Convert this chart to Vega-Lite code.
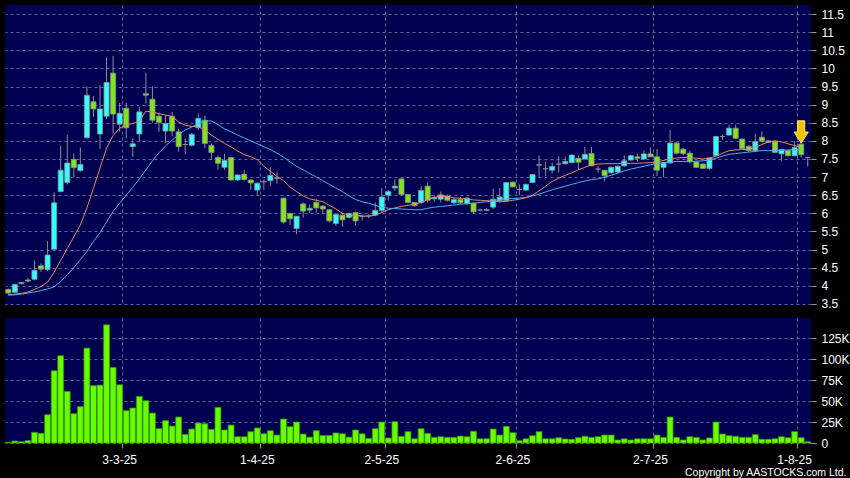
{
  "$schema": "https://vega.github.io/schema/vega-lite/v6.json",
  "background": "#000000",
  "padding": {"left": 4, "top": 5, "right": 0, "bottom": 0},
  "spacing": 13,
  "bounds": "flush",
  "config": {
    "view": {"fill": "#000050", "stroke": null},
    "font": "Liberation Sans",
    "axis": {"labelColor": "#ffffff", "labelFont": "Liberation Sans", "labelFontSize": 12, "labelFontWeight": "normal", "tickColor": "#9a9a9a", "domain": false, "gridColor": "#64649a", "gridDash": [3, 3], "gridWidth": 1}
  },
  "datasets": {
    "ohlc": [
      {"date":"6-2-25","open":3.9,"high":3.92,"low":3.77,"close":3.8,"volume":800,"ma_fast":3.76,"ma_slow":3.74},
      {"date":"7-2-25","open":3.82,"high":4.05,"low":3.8,"close":4.04,"volume":2400,"ma_fast":3.77,"ma_slow":3.75},
      {"date":"10-2-25","open":4.06,"high":4.1,"low":4.04,"close":4.09,"volume":1600,"ma_fast":3.79,"ma_slow":3.77},
      {"date":"11-2-25","open":4.16,"high":4.22,"low":4.1,"close":4.13,"volume":2800,"ma_fast":3.83,"ma_slow":3.8},
      {"date":"12-2-25","open":4.18,"high":4.7,"low":4.15,"close":4.43,"volume":12700,"ma_fast":3.9,"ma_slow":3.83},
      {"date":"13-2-25","open":4.55,"high":4.62,"low":4.38,"close":4.46,"volume":11500,"ma_fast":3.98,"ma_slow":3.87},
      {"date":"14-2-25","open":4.45,"high":5.24,"low":4.4,"close":4.85,"volume":33700,"ma_fast":4.1,"ma_slow":3.91},
      {"date":"17-2-25","open":5.01,"high":6.58,"low":4.98,"close":6.29,"volume":86100,"ma_fast":4.38,"ma_slow":3.97},
      {"date":"18-2-25","open":6.6,"high":7.87,"low":6.58,"close":7.19,"volume":104000,"ma_fast":4.7,"ma_slow":4.12},
      {"date":"19-2-25","open":6.85,"high":8.16,"low":6.8,"close":7.39,"volume":61500,"ma_fast":5.03,"ma_slow":4.3},
      {"date":"20-2-25","open":7.49,"high":7.65,"low":7.0,"close":7.26,"volume":34900,"ma_fast":5.35,"ma_slow":4.5},
      {"date":"21-2-25","open":7.18,"high":7.82,"low":7.15,"close":7.35,"volume":43300,"ma_fast":5.68,"ma_slow":4.72},
      {"date":"24-2-25","open":8.09,"high":9.5,"low":8.05,"close":9.26,"volume":113100,"ma_fast":6.15,"ma_slow":4.95},
      {"date":"25-2-25","open":9.08,"high":9.24,"low":8.67,"close":8.88,"volume":68300,"ma_fast":6.69,"ma_slow":5.22},
      {"date":"26-2-25","open":8.19,"high":9.54,"low":7.77,"close":8.88,"volume":69000,"ma_fast":7.25,"ma_slow":5.47},
      {"date":"27-2-25","open":8.68,"high":10.3,"low":8.6,"close":9.61,"volume":140900,"ma_fast":7.8,"ma_slow":5.76},
      {"date":"28-2-25","open":9.87,"high":10.35,"low":8.2,"close":8.74,"volume":90100,"ma_fast":8.15,"ma_slow":6.05},
      {"date":"3-3-25","open":8.46,"high":9.05,"low":8.25,"close":8.76,"volume":69400,"ma_fast":8.35,"ma_slow":6.28},
      {"date":"4-3-25","open":8.9,"high":9.05,"low":8.07,"close":8.36,"volume":38500,"ma_fast":8.44,"ma_slow":6.5},
      {"date":"5-3-25","open":7.84,"high":8.07,"low":7.56,"close":7.92,"volume":41700,"ma_fast":8.48,"ma_slow":6.72},
      {"date":"6-3-25","open":8.19,"high":8.94,"low":7.98,"close":8.8,"volume":55600,"ma_fast":8.55,"ma_slow":6.95},
      {"date":"7-3-25","open":9.3,"high":9.88,"low":9.03,"close":9.26,"volume":50400,"ma_fast":8.82,"ma_slow":7.2},
      {"date":"10-3-25","open":9.15,"high":9.5,"low":8.5,"close":8.57,"volume":35700,"ma_fast":8.8,"ma_slow":7.45},
      {"date":"11-3-25","open":8.68,"high":8.78,"low":8.25,"close":8.51,"volume":17100,"ma_fast":8.75,"ma_slow":7.67},
      {"date":"12-3-25","open":8.27,"high":8.71,"low":7.93,"close":8.48,"volume":26600,"ma_fast":8.71,"ma_slow":7.86},
      {"date":"13-3-25","open":8.68,"high":8.8,"low":8.12,"close":8.27,"volume":20200,"ma_fast":8.67,"ma_slow":8.02},
      {"date":"14-3-25","open":8.25,"high":8.34,"low":7.7,"close":7.84,"volume":31000,"ma_fast":8.52,"ma_slow":8.18},
      {"date":"17-3-25","open":7.9,"high":8.07,"low":7.63,"close":7.9,"volume":10300,"ma_fast":8.43,"ma_slow":8.3},
      {"date":"18-3-25","open":7.88,"high":8.22,"low":7.85,"close":8.18,"volume":16700,"ma_fast":8.4,"ma_slow":8.38},
      {"date":"19-3-25","open":8.36,"high":8.76,"low":8.3,"close":8.62,"volume":23800,"ma_fast":8.39,"ma_slow":8.48},
      {"date":"20-3-25","open":8.57,"high":8.7,"low":7.8,"close":7.93,"volume":23000,"ma_fast":8.3,"ma_slow":8.55},
      {"date":"21-3-25","open":7.87,"high":7.93,"low":7.47,"close":7.68,"volume":16300,"ma_fast":8.16,"ma_slow":8.55},
      {"date":"24-3-25","open":7.54,"high":7.6,"low":7.2,"close":7.38,"volume":42500,"ma_fast":8.04,"ma_slow":8.45},
      {"date":"25-3-25","open":7.27,"high":7.65,"low":7.2,"close":7.46,"volume":15500,"ma_fast":7.93,"ma_slow":8.33},
      {"date":"26-3-25","open":7.54,"high":7.55,"low":6.9,"close":6.92,"volume":21400,"ma_fast":7.83,"ma_slow":8.25},
      {"date":"27-3-25","open":6.92,"high":7.07,"low":6.9,"close":7.06,"volume":7500,"ma_fast":7.72,"ma_slow":8.16},
      {"date":"28-3-25","open":7.08,"high":7.2,"low":6.9,"close":6.93,"volume":7500,"ma_fast":7.62,"ma_slow":8.08},
      {"date":"31-3-25","open":6.92,"high":6.93,"low":6.64,"close":6.84,"volume":13500,"ma_fast":7.56,"ma_slow":8.0},
      {"date":"1-4-25","open":6.64,"high":6.85,"low":6.48,"close":6.83,"volume":17900,"ma_fast":7.48,"ma_slow":7.92},
      {"date":"2-4-25","open":6.87,"high":6.93,"low":6.64,"close":6.87,"volume":11100,"ma_fast":7.3,"ma_slow":7.84},
      {"date":"3-4-25","open":6.9,"high":7.26,"low":6.75,"close":7.05,"volume":14700,"ma_fast":7.16,"ma_slow":7.76},
      {"date":"7-4-25","open":6.97,"high":7.15,"low":6.82,"close":6.97,"volume":9500,"ma_fast":7.02,"ma_slow":7.66},
      {"date":"8-4-25","open":6.42,"high":6.43,"low":5.72,"close":5.76,"volume":28600,"ma_fast":6.9,"ma_slow":7.55},
      {"date":"9-4-25","open":6.0,"high":6.01,"low":5.68,"close":5.85,"volume":19400,"ma_fast":6.72,"ma_slow":7.42},
      {"date":"10-4-25","open":5.58,"high":5.93,"low":5.42,"close":5.92,"volume":25000,"ma_fast":6.6,"ma_slow":7.3},
      {"date":"11-4-25","open":6.26,"high":6.3,"low":5.88,"close":6.06,"volume":10700,"ma_fast":6.48,"ma_slow":7.2},
      {"date":"14-4-25","open":6.09,"high":6.25,"low":6.0,"close":6.14,"volume":7000,"ma_fast":6.4,"ma_slow":7.1},
      {"date":"15-4-25","open":6.3,"high":6.4,"low":6.02,"close":6.15,"volume":14700,"ma_fast":6.36,"ma_slow":7.0},
      {"date":"16-4-25","open":6.2,"high":6.22,"low":5.97,"close":6.12,"volume":9000,"ma_fast":6.32,"ma_slow":6.9},
      {"date":"17-4-25","open":6.1,"high":6.12,"low":5.75,"close":5.79,"volume":9000,"ma_fast":6.22,"ma_slow":6.8},
      {"date":"22-4-25","open":5.72,"high":5.98,"low":5.65,"close":5.97,"volume":12000,"ma_fast":6.12,"ma_slow":6.7},
      {"date":"23-4-25","open":5.95,"high":6.0,"low":5.63,"close":5.82,"volume":11000,"ma_fast":6.0,"ma_slow":6.6},
      {"date":"24-4-25","open":5.89,"high":6.02,"low":5.85,"close":6.0,"volume":7000,"ma_fast":5.95,"ma_slow":6.48},
      {"date":"25-4-25","open":6.02,"high":6.05,"low":5.66,"close":5.79,"volume":15500,"ma_fast":5.95,"ma_slow":6.38},
      {"date":"28-4-25","open":5.91,"high":5.97,"low":5.8,"close":5.91,"volume":11000,"ma_fast":5.93,"ma_slow":6.32},
      {"date":"29-4-25","open":5.93,"high":5.97,"low":5.87,"close":5.93,"volume":5500,"ma_fast":5.92,"ma_slow":6.28},
      {"date":"30-4-25","open":5.95,"high":6.3,"low":5.92,"close":6.08,"volume":17000,"ma_fast":5.95,"ma_slow":6.22},
      {"date":"2-5-25","open":6.08,"high":6.7,"low":6.03,"close":6.45,"volume":25000,"ma_fast":6.02,"ma_slow":6.17},
      {"date":"6-5-25","open":6.5,"high":6.65,"low":6.35,"close":6.6,"volume":6000,"ma_fast":6.1,"ma_slow":6.14},
      {"date":"7-5-25","open":6.7,"high":6.93,"low":6.62,"close":6.75,"volume":25400,"ma_fast":6.15,"ma_slow":6.13},
      {"date":"8-5-25","open":6.95,"high":6.96,"low":6.48,"close":6.52,"volume":8000,"ma_fast":6.19,"ma_slow":6.12},
      {"date":"9-5-25","open":6.52,"high":6.53,"low":6.27,"close":6.3,"volume":13500,"ma_fast":6.22,"ma_slow":6.11},
      {"date":"12-5-25","open":6.3,"high":6.31,"low":6.18,"close":6.21,"volume":5000,"ma_fast":6.25,"ma_slow":6.1},
      {"date":"13-5-25","open":6.3,"high":6.75,"low":6.25,"close":6.63,"volume":17000,"ma_fast":6.3,"ma_slow":6.1},
      {"date":"14-5-25","open":6.75,"high":6.85,"low":6.3,"close":6.36,"volume":11500,"ma_fast":6.38,"ma_slow":6.14},
      {"date":"15-5-25","open":6.4,"high":6.5,"low":6.32,"close":6.44,"volume":6700,"ma_fast":6.44,"ma_slow":6.17},
      {"date":"16-5-25","open":6.39,"high":6.6,"low":6.3,"close":6.51,"volume":7500,"ma_fast":6.47,"ma_slow":6.19},
      {"date":"19-5-25","open":6.48,"high":6.52,"low":6.33,"close":6.36,"volume":6700,"ma_fast":6.46,"ma_slow":6.21},
      {"date":"20-5-25","open":6.29,"high":6.42,"low":6.26,"close":6.38,"volume":6700,"ma_fast":6.43,"ma_slow":6.23},
      {"date":"21-5-25","open":6.38,"high":6.45,"low":6.25,"close":6.29,"volume":8300,"ma_fast":6.41,"ma_slow":6.25},
      {"date":"22-5-25","open":6.27,"high":6.45,"low":6.22,"close":6.42,"volume":7500,"ma_fast":6.39,"ma_slow":6.27},
      {"date":"23-5-25","open":6.28,"high":6.3,"low":5.98,"close":6.04,"volume":14000,"ma_fast":6.37,"ma_slow":6.28},
      {"date":"26-5-25","open":6.09,"high":6.13,"low":6.05,"close":6.09,"volume":5000,"ma_fast":6.36,"ma_slow":6.3},
      {"date":"27-5-25","open":6.1,"high":6.14,"low":6.06,"close":6.08,"volume":5000,"ma_fast":6.35,"ma_slow":6.32},
      {"date":"28-5-25","open":6.17,"high":6.68,"low":6.12,"close":6.39,"volume":16700,"ma_fast":6.34,"ma_slow":6.35},
      {"date":"29-5-25","open":6.35,"high":6.7,"low":6.3,"close":6.45,"volume":9500,"ma_fast":6.32,"ma_slow":6.38},
      {"date":"30-5-25","open":6.35,"high":6.86,"low":6.34,"close":6.85,"volume":19800,"ma_fast":6.33,"ma_slow":6.4},
      {"date":"2-6-25","open":6.86,"high":6.88,"low":6.72,"close":6.73,"volume":12300,"ma_fast":6.36,"ma_slow":6.41},
      {"date":"3-6-25","open":6.66,"high":6.8,"low":6.5,"close":6.66,"volume":2800,"ma_fast":6.39,"ma_slow":6.42},
      {"date":"4-6-25","open":6.64,"high":6.82,"low":6.62,"close":6.8,"volume":5000,"ma_fast":6.43,"ma_slow":6.44},
      {"date":"5-6-25","open":6.85,"high":7.08,"low":6.83,"close":7.07,"volume":8700,"ma_fast":6.5,"ma_slow":6.48},
      {"date":"6-6-25","open":7.34,"high":7.6,"low":7.0,"close":7.33,"volume":13500,"ma_fast":6.62,"ma_slow":6.53},
      {"date":"9-6-25","open":7.23,"high":7.43,"low":7.02,"close":7.23,"volume":5000,"ma_fast":6.75,"ma_slow":6.59},
      {"date":"10-6-25","open":7.19,"high":7.4,"low":7.1,"close":7.29,"volume":5000,"ma_fast":6.88,"ma_slow":6.65},
      {"date":"11-6-25","open":7.36,"high":7.58,"low":7.12,"close":7.36,"volume":6300,"ma_fast":6.97,"ma_slow":6.7},
      {"date":"12-6-25","open":7.37,"high":7.55,"low":7.35,"close":7.43,"volume":4800,"ma_fast":7.05,"ma_slow":6.75},
      {"date":"13-6-25","open":7.4,"high":7.62,"low":7.38,"close":7.61,"volume":4400,"ma_fast":7.12,"ma_slow":6.8},
      {"date":"16-6-25","open":7.52,"high":7.6,"low":7.2,"close":7.41,"volume":6300,"ma_fast":7.2,"ma_slow":6.85},
      {"date":"17-6-25","open":7.5,"high":7.83,"low":7.48,"close":7.63,"volume":8000,"ma_fast":7.27,"ma_slow":6.89},
      {"date":"18-6-25","open":7.65,"high":7.83,"low":7.3,"close":7.31,"volume":6700,"ma_fast":7.34,"ma_slow":6.93},
      {"date":"19-6-25","open":7.22,"high":7.3,"low":7.12,"close":7.22,"volume":7500,"ma_fast":7.36,"ma_slow":6.95},
      {"date":"20-6-25","open":7.19,"high":7.2,"low":6.88,"close":7.04,"volume":9500,"ma_fast":7.37,"ma_slow":7.0},
      {"date":"23-6-25","open":7.12,"high":7.3,"low":7.08,"close":7.27,"volume":9500,"ma_fast":7.37,"ma_slow":7.05},
      {"date":"24-6-25","open":7.14,"high":7.32,"low":7.1,"close":7.3,"volume":3600,"ma_fast":7.37,"ma_slow":7.11},
      {"date":"25-6-25","open":7.31,"high":7.6,"low":7.29,"close":7.45,"volume":5000,"ma_fast":7.38,"ma_slow":7.17},
      {"date":"26-6-25","open":7.47,"high":7.62,"low":7.45,"close":7.59,"volume":3600,"ma_fast":7.38,"ma_slow":7.22},
      {"date":"27-6-25","open":7.56,"high":7.65,"low":7.42,"close":7.52,"volume":5000,"ma_fast":7.38,"ma_slow":7.26},
      {"date":"30-6-25","open":7.5,"high":7.74,"low":7.47,"close":7.64,"volume":5000,"ma_fast":7.39,"ma_slow":7.3},
      {"date":"2-7-25","open":7.64,"high":7.82,"low":7.55,"close":7.56,"volume":5000,"ma_fast":7.4,"ma_slow":7.34},
      {"date":"3-7-25","open":7.56,"high":7.77,"low":7.03,"close":7.19,"volume":9500,"ma_fast":7.42,"ma_slow":7.37},
      {"date":"4-7-25","open":7.27,"high":7.4,"low":7.0,"close":7.39,"volume":6700,"ma_fast":7.46,"ma_slow":7.4},
      {"date":"7-7-25","open":7.39,"high":8.3,"low":7.37,"close":7.94,"volume":31000,"ma_fast":7.5,"ma_slow":7.42},
      {"date":"8-7-25","open":7.94,"high":7.96,"low":7.62,"close":7.66,"volume":6700,"ma_fast":7.53,"ma_slow":7.43},
      {"date":"9-7-25","open":7.77,"high":7.8,"low":7.6,"close":7.65,"volume":3600,"ma_fast":7.54,"ma_slow":7.43},
      {"date":"10-7-25","open":7.66,"high":7.72,"low":7.38,"close":7.42,"volume":7500,"ma_fast":7.54,"ma_slow":7.43},
      {"date":"11-7-25","open":7.42,"high":7.45,"low":7.25,"close":7.27,"volume":6700,"ma_fast":7.52,"ma_slow":7.44},
      {"date":"14-7-25","open":7.36,"high":7.38,"low":7.22,"close":7.24,"volume":3600,"ma_fast":7.5,"ma_slow":7.45},
      {"date":"15-7-25","open":7.24,"high":7.55,"low":7.2,"close":7.53,"volume":6000,"ma_fast":7.52,"ma_slow":7.47},
      {"date":"16-7-25","open":7.59,"high":8.13,"low":7.57,"close":8.12,"volume":25000,"ma_fast":7.58,"ma_slow":7.52},
      {"date":"17-7-25","open":8.12,"high":8.18,"low":8.03,"close":8.12,"volume":10700,"ma_fast":7.66,"ma_slow":7.58},
      {"date":"18-7-25","open":8.16,"high":8.45,"low":8.14,"close":8.35,"volume":8700,"ma_fast":7.73,"ma_slow":7.63},
      {"date":"21-7-25","open":8.35,"high":8.45,"low":8.05,"close":8.07,"volume":8000,"ma_fast":7.75,"ma_slow":7.65},
      {"date":"22-7-25","open":8.05,"high":8.07,"low":7.77,"close":7.79,"volume":6700,"ma_fast":7.76,"ma_slow":7.67},
      {"date":"23-7-25","open":7.85,"high":7.88,"low":7.7,"close":7.73,"volume":6700,"ma_fast":7.77,"ma_slow":7.69},
      {"date":"24-7-25","open":7.73,"high":8.2,"low":7.7,"close":7.98,"volume":10000,"ma_fast":7.82,"ma_slow":7.71},
      {"date":"25-7-25","open":8.1,"high":8.26,"low":7.96,"close":7.99,"volume":4400,"ma_fast":7.9,"ma_slow":7.73},
      {"date":"28-7-25","open":7.96,"high":8.02,"low":7.94,"close":8.0,"volume":4400,"ma_fast":7.97,"ma_slow":7.73},
      {"date":"29-7-25","open":7.99,"high":8.0,"low":7.66,"close":7.68,"volume":5000,"ma_fast":8.0,"ma_slow":7.73},
      {"date":"30-7-25","open":7.64,"high":7.78,"low":7.45,"close":7.76,"volume":7500,"ma_fast":7.97,"ma_slow":7.74},
      {"date":"31-7-25","open":7.73,"high":7.75,"low":7.57,"close":7.59,"volume":6300,"ma_fast":7.92,"ma_slow":7.75},
      {"date":"1-8-25","open":7.59,"high":8.0,"low":7.57,"close":7.82,"volume":13500,"ma_fast":7.87,"ma_slow":7.76},
      {"date":"4-8-25","open":7.91,"high":7.93,"low":7.54,"close":7.62,"volume":6300,"ma_fast":7.82,"ma_slow":7.77},
      {"date":"5-8-25","open":7.54,"high":7.55,"low":7.29,"close":7.54,"volume":1600,"ma_fast":null,"ma_slow":null}
    ],
    "arrow": [{"date": "4-8-25", "price": 8.245}]
  },
  "vconcat": [
    {
      "width": 806,
      "height": 300,
      "data": {"name": "ohlc"},
      "encoding": {
        "x": {
          "field": "date", "type": "ordinal", "sort": null,
          "scale": {"type": "band", "paddingInner": 0, "paddingOuter": 0},
          "axis": {"values": ["3-3-25", "1-4-25", "2-5-25", "2-6-25", "2-7-25", "1-8-25"], "bandPosition": 1, "labels": false, "ticks": false, "grid": true, "title": null}
        }
      },
      "layer": [
        {
          "mark": {"type": "rule", "color": "#8e8e8e", "strokeWidth": 1},
          "encoding": {
            "y": {
              "field": "low", "type": "quantitative",
              "scale": {"domain": [3.47, 11.75], "nice": false, "zero": false},
              "axis": {"orient": "right", "values": [3.5, 4, 4.5, 5, 5.5, 6, 6.5, 7, 7.5, 8, 8.5, 9, 9.5, 10, 10.5, 11, 11.5], "format": "~g", "grid": true, "tickSize": 5, "labelPadding": 5, "title": null}
            },
            "y2": {"field": "high"}
          }
        },
        {
          "mark": {"type": "bar", "width": {"band": 0.78}, "stroke": "#8e8e8e", "strokeWidth": 0.8},
          "encoding": {
            "y": {"field": "open", "type": "quantitative", "axis": {"orient": "right", "values": [3.5, 4, 4.5, 5, 5.5, 6, 6.5, 7, 7.5, 8, 8.5, 9, 9.5, 10, 10.5, 11, 11.5], "format": "~g", "grid": true, "tickSize": 5, "labelPadding": 5, "title": null}},
            "y2": {"field": "close"},
            "fill": {
              "condition": [
                {"test": "datum.close > datum.open", "value": "#33FFFF"},
                {"test": "datum.close < datum.open", "value": "#80E61A"}
              ],
              "value": "#8e8e8e"
            }
          }
        },
        {
          "mark": {"type": "line", "color": "#E8895A", "strokeWidth": 1},
          "encoding": {"y": {"field": "ma_fast", "type": "quantitative", "axis": {"orient": "right", "values": [3.5, 4, 4.5, 5, 5.5, 6, 6.5, 7, 7.5, 8, 8.5, 9, 9.5, 10, 10.5, 11, 11.5], "format": "~g", "grid": true, "tickSize": 5, "labelPadding": 5, "title": null}}}
        },
        {
          "mark": {"type": "line", "color": "#4DB0F0", "strokeWidth": 1},
          "encoding": {"y": {"field": "ma_slow", "type": "quantitative", "axis": {"orient": "right", "values": [3.5, 4, 4.5, 5, 5.5, 6, 6.5, 7, 7.5, 8, 8.5, 9, 9.5, 10, 10.5, 11, 11.5], "format": "~g", "grid": true, "tickSize": 5, "labelPadding": 5, "title": null}}}
        },
        {
          "data": {"name": "arrow"},
          "mark": {"type": "point", "shape": "M-0.32,-1L0.32,-1L0.32,0L0.64,0L0,1L-0.64,0L-0.32,0Z", "size": 500, "filled": true, "fill": "#F5C400", "stroke": "#FFE680", "strokeWidth": 1, "opacity": 1},
          "encoding": {"y": {"field": "price", "type": "quantitative", "axis": {"orient": "right", "values": [3.5, 4, 4.5, 5, 5.5, 6, 6.5, 7, 7.5, 8, 8.5, 9, 9.5, 10, 10.5, 11, 11.5], "format": "~g", "grid": true, "tickSize": 5, "labelPadding": 5, "title": null}}}
        }
      ]
    },
    {
      "width": 806,
      "height": 125,
      "data": {"name": "ohlc"},
      "mark": {"type": "bar", "width": {"band": 0.9}, "fill": "#66FF00", "stroke": "#3d8f00", "strokeWidth": 0.8},
      "encoding": {
        "x": {
          "field": "date", "type": "ordinal", "sort": null,
          "scale": {"type": "band", "paddingInner": 0, "paddingOuter": 0},
          "axis": {
            "values": ["3-3-25", "1-4-25", "2-5-25", "2-6-25", "2-7-25", "1-8-25"],
            "bandPosition": 1, "grid": true, "ticks": true, "tickSize": 5, "labelPadding": 6, "labelAngle": 0,
            "labelOverlap": false, "labelBound": false, "labelFlush": false,
            "title": "Copyright by AASTOCKS.com Ltd.", "titleColor": "#ffffff", "titleFont": "Liberation Sans", "titleFontSize": 10.5, "titleFontWeight": "normal",
            "titleAnchor": "end", "titleAlign": "right", "titleBaseline": "alphabetic", "titleX": 841, "titleY": 32
          }
        },
        "y": {
          "field": "volume", "type": "quantitative",
          "scale": {"domain": [0, 149000], "nice": false},
          "axis": {"orient": "right", "values": [0, 25000, 50000, 75000, 100000, 125000], "labelExpr": "datum.value == 0 ? '0' : format(datum.value / 1000, 'd') + 'K'", "grid": true, "tickSize": 5, "labelPadding": 5, "title": null}
        }
      }
    }
  ]
}
